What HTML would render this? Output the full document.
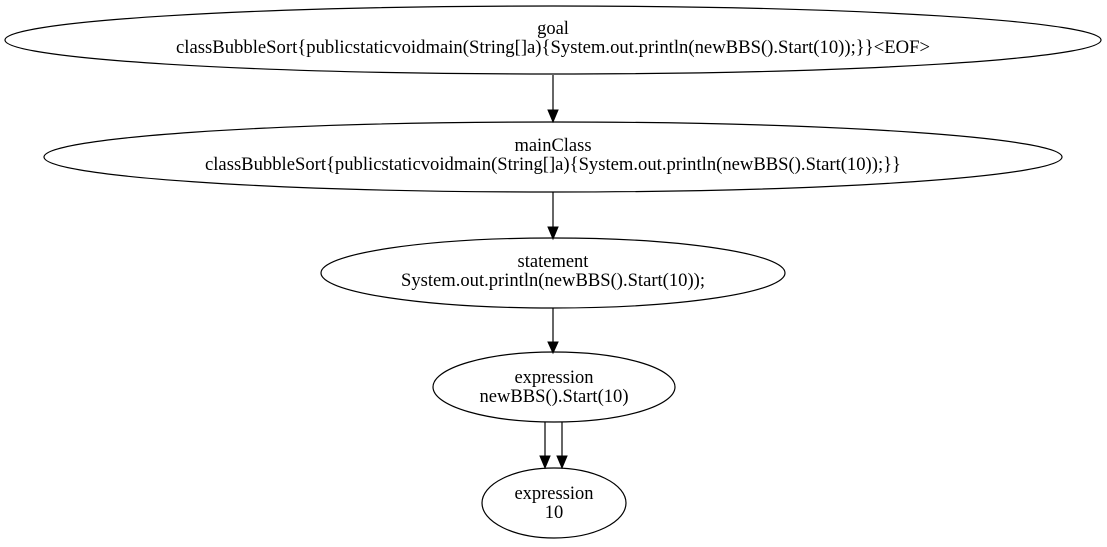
<!DOCTYPE html>
<html><head><style>
html,body{margin:0;padding:0;background:#fff;}
svg text{font-family:"Liberation Serif",serif;font-size:18.5px;fill:#000;}
</style></head><body>
<svg width="1107" height="542" viewBox="0 0 1107 542" xmlns="http://www.w3.org/2000/svg">
<g fill="none" stroke="#000" stroke-width="1.2">
<ellipse cx="553" cy="40" rx="548" ry="34"/>
<ellipse cx="553" cy="157" rx="509" ry="35"/>
<ellipse cx="553" cy="273" rx="232" ry="35"/>
<ellipse cx="554" cy="387" rx="121" ry="35"/>
<ellipse cx="554" cy="503" rx="72" ry="35"/>
<line x1="553" y1="75" x2="553" y2="110"/>
<line x1="553" y1="192" x2="553" y2="227"/>
<line x1="553" y1="308" x2="553" y2="342"/>
<line x1="545" y1="422" x2="545" y2="456"/>
<line x1="562" y1="422" x2="562" y2="456"/>
</g>
<g fill="#000" stroke="#000">
<polygon points="548,110 558,110 553,122"/>
<polygon points="548,227 558,227 553,239"/>
<polygon points="548,342 558,342 553,353"/>
<polygon points="540,456 550,456 545,468"/>
<polygon points="557,456 567,456 562,468"/>
</g>
<g text-anchor="middle">
<text x="553" y="34">goal</text>
<text x="553" y="53" textLength="754" lengthAdjust="spacingAndGlyphs">classBubbleSort{publicstaticvoidmain(String[]a){System.out.println(newBBS().Start(10));}}&lt;EOF&gt;</text>
<text x="553" y="151">mainClass</text>
<text x="553" y="170" textLength="696" lengthAdjust="spacingAndGlyphs">classBubbleSort{publicstaticvoidmain(String[]a){System.out.println(newBBS().Start(10));}}</text>
<text x="553" y="267">statement</text>
<text x="553" y="286" textLength="304" lengthAdjust="spacingAndGlyphs">System.out.println(newBBS().Start(10));</text>
<text x="554" y="383">expression</text>
<text x="554" y="402" textLength="149" lengthAdjust="spacingAndGlyphs">newBBS().Start(10)</text>
<text x="554" y="499">expression</text>
<text x="554" y="518">10</text>
</g>
</svg>
</body></html>
